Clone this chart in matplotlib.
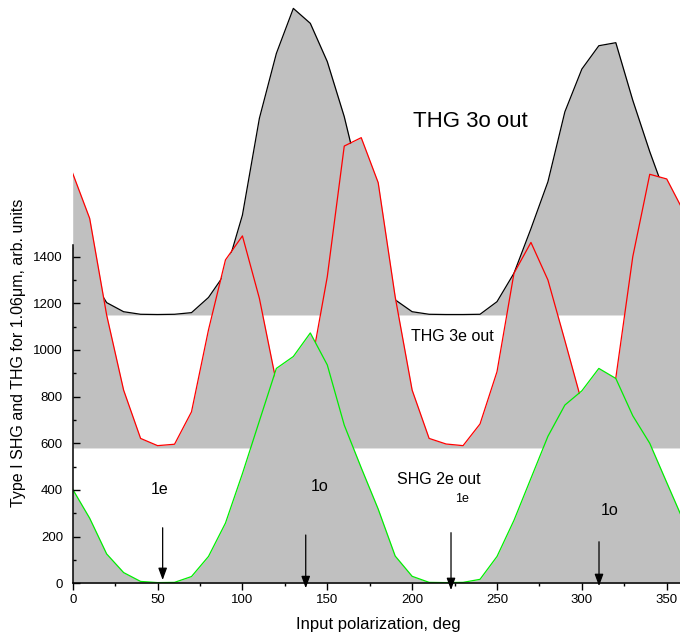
import numpy as np
import matplotlib.pyplot as plt

plt.rcParams['font.family'] = ['Liberation Sans', 'DejaVu Sans']

# polarization angle, deg
angle = np.arange(0, 361, 10)

# THG 3o out (filled down to 1150)
thg_3o = [1440, 1320, 1203, 1164, 1153, 1152, 1153, 1160, 1225, 1330,
          1578, 1993, 2271, 2464, 2400, 2236, 2000, 1700, 1400, 1215,
          1164, 1153, 1152, 1152, 1153, 1207, 1329, 1520, 1721, 2021,
          2204, 2304, 2317, 2070, 1850, 1650, 1560]
base_3o = 1150

# THG 3e out (filled down to 580)
thg_3e = [1757, 1564, 1150, 828, 621, 590, 596, 735, 1086, 1386,
          1489, 1221, 860, 720, 910, 1314, 1874, 1910, 1717, 1228,
          828, 621, 597, 590, 683, 907, 1329, 1461, 1300, 1040,
          775, 700, 880, 1400, 1753, 1733, 1593]
base_3e = 580

# SHG 2e out (filled down to 0)
shg_2e = [403, 279, 126, 46, 8, 3, 4, 29, 115, 258,
          470, 696, 921, 972, 1073, 936, 678, 495, 318, 117,
          30, 4, 3, 4, 17, 115, 270, 450, 630, 764,
          825, 921, 878, 718, 600, 432, 265]

# arrows: x position, start y, tip y
arrow_x = [53.0, 137.3, 222.9, 310.1]
arrow_y0 = [238, 207, 217, 178]
arrow_y1 = [14, -21, -29, -12]

gray = '#c0c0c0'

fig = plt.figure(figsize=(6.8, 6.36), dpi=100)
ax = fig.add_axes([72.7 / 680, 52.7 / 636, 611 / 680, 583.3 / 636])

series = [(thg_3o, base_3o, 'black'), (thg_3e, base_3e, 'red'), (shg_2e, 0, '#00ee00')]
z = 1
for vals, base, col in series:
    ax.fill_between(angle, base, vals, color=gray, lw=0, zorder=z)
    ax.plot(angle, vals, color=col, lw=0.9, zorder=z + 1)
    z += 2

for x, y0, y1 in zip(arrow_x, arrow_y0, arrow_y1):
    ax.annotate('', xy=(x, y1), xytext=(x, y0), annotation_clip=False,
                arrowprops=dict(arrowstyle='-|>,head_length=0.6,head_width=0.22',
                                color='black', lw=0.9,
                                mutation_scale=12, shrinkA=0, shrinkB=0),
                zorder=14)

labels = [(234.4, 1978, 'THG 3o out', 16),
          (223.5, 1057, 'THG 3e out', 11.5),
          (215.9, 447, 'SHG 2e out', 11.5),
          (51.0, 404, '1e', 11.5),
          (145.7, 414, '1o', 11.5),
          (229.2, 360, '1e', 9),
          (316.6, 310, '1o', 11.5)]
for x, y, s, fs in labels:
    ax.text(x, y, s, fontsize=fs, ha='center', va='center', zorder=15)

ax.set_xlim(0, 360)
ax.set_ylim(0, 2500)
ax.spines['top'].set_visible(False)
ax.spines['right'].set_visible(False)
ax.spines['left'].set_bounds(0, 1450)
for s in ['left', 'bottom']:
    ax.spines[s].set_linewidth(1.1)
    ax.spines[s].set_zorder(12)
ax.xaxis.set_zorder(12)
ax.yaxis.set_zorder(12)

ax.set_xticks(range(0, 351, 50))
ax.set_xticks(range(25, 360, 50), minor=True)
ax.set_yticks(range(0, 1401, 200))
ax.set_yticks(range(100, 1400, 200), minor=True)
ax.tick_params(axis='x', which='major', direction='out', length=5, width=1, labelsize=9.5, pad=3)
ax.tick_params(axis='x', which='minor', direction='out', length=2.5, width=1)
ax.tick_params(axis='y', which='major', direction='in', length=4.7, width=1, labelsize=9.5, pad=7)
ax.tick_params(axis='y', which='minor', direction='in', length=2.2, width=1)

fig.text(378.7 / 680, 1 - 624 / 636, 'Input polarization, deg', fontsize=12,
         ha='center', va='center')
fig.text(18.3 / 680, 1 - 353 / 636, 'Type I SHG and THG for 1.06μm, arb. units',
         fontsize=11.5, ha='center', va='center', rotation=90)

fig.savefig('out.png', dpi=100)
